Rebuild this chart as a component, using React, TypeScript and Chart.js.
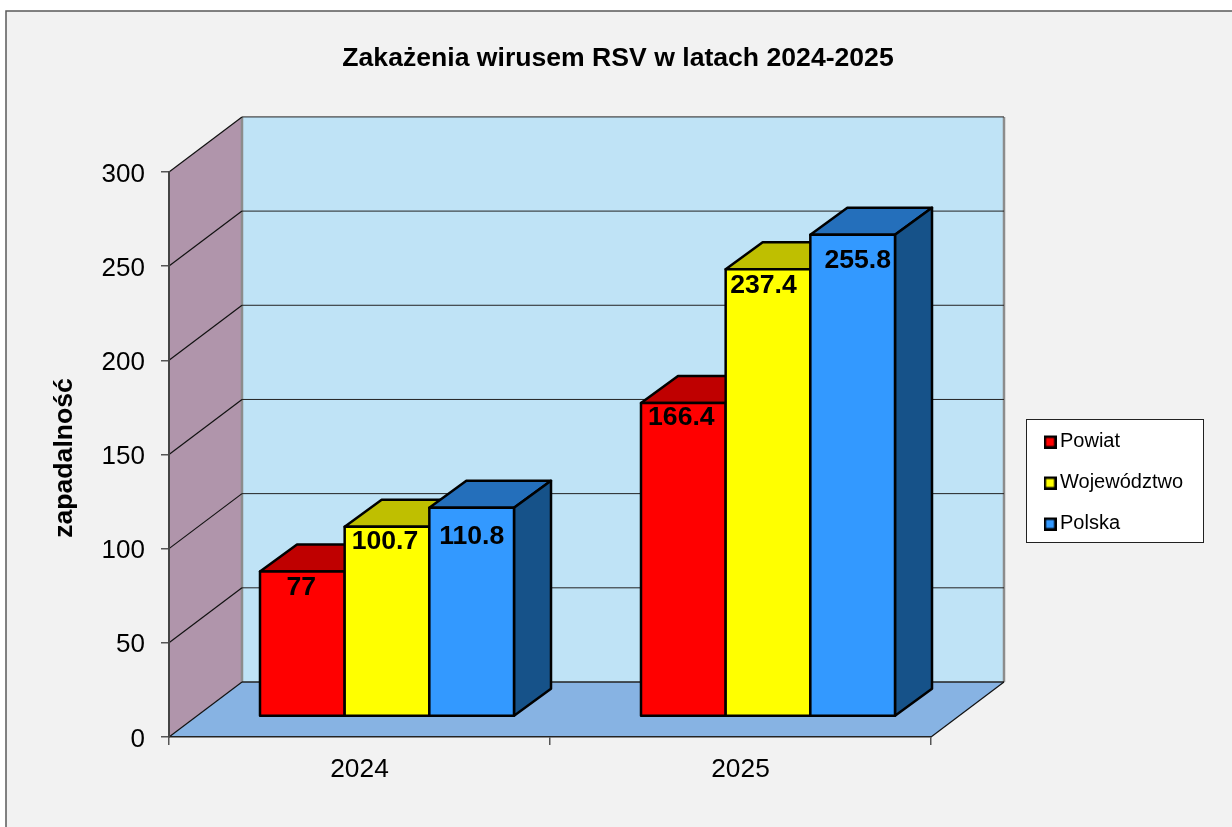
import React, { useEffect, useRef } from "react";
import { Chart, registerables } from "chart.js";

Chart.register(...registerables);

const categories = ["2024", "2025"];
const powiat = [77, 166.4];
const wojewodztwo = [100.7, 237.4];
const polska = [110.8, 255.8];
const yTicks = [0, 50, 100, 150, 200, 250, 300];

const FONT = "'Liberation Sans', Arial, sans-serif";
const WALL = { dx: 73, dy: -55 };
const BAR_SHIFT = { dx: 27.5, dy: -20.5 };
const BAR_DEPTH = { dx: 37, dy: -27 };
const FACES = [
  { top: "#BF0000", side: "#800000", labelDy: [16, 15], labelDx: [-1, -2] },
  { top: "#BFBF00", side: "#808000", labelDy: [15, 16], labelDx: [-2, -4.5] },
  { top: "#246FBB", side: "#165289", labelDy: [29, 26], labelDx: [0, 5] },
];

function poly(ctx: CanvasRenderingContext2D, pts: number[][], fill: string, stroke?: string, lw = 1) {
  ctx.beginPath();
  pts.forEach((p, i) => (i ? ctx.lineTo(p[0], p[1]) : ctx.moveTo(p[0], p[1])));
  ctx.closePath();
  ctx.fillStyle = fill;
  ctx.fill();
  if (stroke) {
    ctx.strokeStyle = stroke;
    ctx.lineWidth = lw;
    ctx.lineJoin = "round";
    ctx.stroke();
  }
}

function line(ctx: CanvasRenderingContext2D, x1: number, y1: number, x2: number, y2: number, color: string, lw: number) {
  ctx.beginPath();
  ctx.moveTo(x1, y1);
  ctx.lineTo(x2, y2);
  ctx.strokeStyle = color;
  ctx.lineWidth = lw;
  ctx.stroke();
}

function makeMarker(color: string) {
  const c = document.createElement("canvas");
  c.width = 13;
  c.height = 15;
  const g = c.getContext("2d") as CanvasRenderingContext2D;
  g.fillStyle = color;
  g.fillRect(1, 3, 11, 11);
  g.strokeStyle = "#000";
  g.lineWidth = 2.5;
  g.strokeRect(1.25, 3.25, 10.5, 10.5);
  return c;
}

const scene3d = {
  id: "scene3d",
  afterLayout(chart: any) {
    const l = chart.legend;
    const pad = l.options.labels.padding;
    l.left = 1050 - pad;
    l.right = 1203;
    l.top = 441 - 10 - pad;
    l.bottom = 570;
    const t = chart.titleBlock;
    t.left = 0;
    t.right = 1236;
    const y = chart.scales.y;
    if (!y.__titleShifted) {
      y.__titleShifted = true;
      const draw = y.drawTitle;
      y.drawTitle = function (...args: any[]) {
        chart.ctx.save();
        chart.ctx.translate(0, 3.5);
        draw.apply(this, args);
        chart.ctx.restore();
      };
    }
  },
  beforeDraw(chart: any) {
    const ctx: CanvasRenderingContext2D = chart.ctx;
    const { x, y } = chart.scales;
    const left = x.left, right = x.right;
    const y0 = y.getPixelForValue(0), yMax = y.getPixelForValue(300);
    ctx.save();
    // outer panel
    ctx.fillStyle = "#F2F2F2";
    ctx.fillRect(6, 11, 1240, 830);
    ctx.strokeStyle = "#5A5A5A";
    ctx.lineWidth = 1.5;
    ctx.strokeRect(6, 11, 1240, 830);
    // back wall
    poly(ctx, [[left + WALL.dx, yMax + WALL.dy], [right + WALL.dx, yMax + WALL.dy], [right + WALL.dx, y0 + WALL.dy], [left + WALL.dx, y0 + WALL.dy]], "#BFE3F6");
    // side wall
    poly(ctx, [[left, yMax], [left + WALL.dx, yMax + WALL.dy], [left + WALL.dx, y0 + WALL.dy], [left, y0]], "#B095AB");
    // floor
    poly(ctx, [[left, y0], [left + WALL.dx, y0 + WALL.dy], [right + WALL.dx, y0 + WALL.dy], [right, y0]], "#87B3E3");
    // wall edges
    line(ctx, left + WALL.dx, yMax + WALL.dy, left + WALL.dx, y0 + WALL.dy, "#8C8C8C", 2.5);
    line(ctx, right + WALL.dx, yMax + WALL.dy, right + WALL.dx, y0 + WALL.dy, "#8C8C8C", 2.5);
    // grid lines on both walls
    yTicks.forEach((v) => {
      const py = y.getPixelForValue(v);
      line(ctx, left, py, left + WALL.dx, py + WALL.dy, "#111", 1.2);
      line(ctx, left + WALL.dx, py + WALL.dy, right + WALL.dx, py + WALL.dy, "#222", v === 0 ? 1.5 : 1);
    });
    line(ctx, right, y0, right + WALL.dx, y0 + WALL.dy, "#111", 1.2);
    ctx.restore();

    // legend frame
    ctx.save();
    ctx.fillStyle = "#FFFFFF";
    ctx.fillRect(1026.5, 419.5, 177, 123);
    ctx.strokeStyle = "#222";
    ctx.lineWidth = 1;
    ctx.strokeRect(1026.5, 419.5, 177, 123);
    ctx.restore();
  },
  beforeDatasetDraw() {
    return false;
  },
  afterDatasetsDraw(chart: any) {
    const ctx: CanvasRenderingContext2D = chart.ctx;
    ctx.save();
    ctx.translate(BAR_SHIFT.dx, BAR_SHIFT.dy);
    chart.data.datasets.forEach((ds: any, di: number) => {
      const meta = chart.getDatasetMeta(di);
      meta.data.forEach((el: any) => {
        const { x, y, base, width } = el.getProps(["x", "y", "base", "width"], true);
        const l = x - width / 2, r = x + width / 2;
        const { dx, dy } = BAR_DEPTH;
        poly(ctx, [[l, y], [r, y], [r + dx, y + dy], [l + dx, y + dy]], FACES[di].top, "#000", 2.5);
        poly(ctx, [[r, y], [r + dx, y + dy], [r + dx, base + dy], [r, base]], FACES[di].side, "#000", 2.5);
        el.draw(ctx);
        ctx.lineWidth = 2.5;
        ctx.strokeStyle = "#000";
        ctx.strokeRect(l, y, width, base - y);
      });
    });
    chart.data.datasets.forEach((ds: any, di: number) => {
      const meta = chart.getDatasetMeta(di);
      meta.data.forEach((el: any, i: number) => {
        ctx.fillStyle = "#000";
        ctx.font = `bold 26.6px ${FONT}`;
        ctx.textAlign = "center";
        ctx.textBaseline = "middle";
        ctx.fillText(String(ds.data[i]), el.x + FACES[di].labelDx[i], el.y + FACES[di].labelDy[i]);
      });
    });
    ctx.restore();
  },
};

export default function App() {
  const ref = useRef<HTMLCanvasElement>(null);
  useEffect(() => {
    const chart = new Chart(ref.current as HTMLCanvasElement, {
      type: "bar",
      data: {
        labels: categories,
        datasets: [
          { label: "Powiat", data: powiat, backgroundColor: "#FF0000" },
          { label: "Województwo", data: wojewodztwo, backgroundColor: "#FFFF00" },
          { label: "Polska", data: polska, backgroundColor: "#3399FF" },
        ],
      },
      options: {
        animation: false,
        responsive: false,
        layout: { padding: { left: 0, right: 301, top: 0, bottom: 0 } },
        datasets: { bar: { categoryPercentage: 2 / 3, barPercentage: 1, borderWidth: 0 } },
        scales: {
          x: {
            afterFit: (s: any) => { s.height = 90; },
            grid: { offset: true, drawOnChartArea: false, tickLength: 8, tickColor: "#555", lineWidth: 1.5 },
            border: { color: "#222", width: 1.5 },
            ticks: { color: "#000", padding: 9, font: { family: FONT, size: 26.3 } },
          },
          y: {
            min: 0,
            max: 300,
            afterFit: (s: any) => { s.width = 169; },
            grid: { drawOnChartArea: false, tickLength: 8, tickColor: "#555", lineWidth: 1.5 },
            border: { color: "#444", width: 2 },
            ticks: { stepSize: 50, color: "#000", padding: 16, labelOffset: 2.5, font: { family: FONT, size: 26 } },
            title: {
              display: true,
              text: "zapadalność",
              color: "#000",
              font: { family: FONT, size: 26.6, weight: "bold" },
              padding: { top: 49, bottom: 0 },
            },
          },
        },
        plugins: {
          title: {
            display: true,
            text: "Zakażenia wirusem RSV w latach 2024-2025",
            color: "#000",
            font: { family: FONT, size: 26.6, weight: "bold" },
            padding: { top: 43, bottom: 97 },
          },
          tooltip: { enabled: false },
          legend: {
            position: "chartArea",
            align: "start",
            labels: {
              usePointStyle: true,
              pointStyleWidth: 0.01,
              boxHeight: 11,
              padding: 21,
              color: "#000",
              font: { family: FONT, size: 20 },
              generateLabels: (c: any) =>
                Chart.defaults.plugins.legend.labels.generateLabels(c).map((it: any) => ({
                  ...it,
                  pointStyle: makeMarker(it.fillStyle),
                })),
            },
          },
        },
      } as any,
      plugins: [scene3d as any],
    });
    return () => chart.destroy();
  }, []);
  return <canvas ref={ref} width={1232} height={827} style={{ position: "absolute", left: 0, top: 0, display: "block" }} />;
}
